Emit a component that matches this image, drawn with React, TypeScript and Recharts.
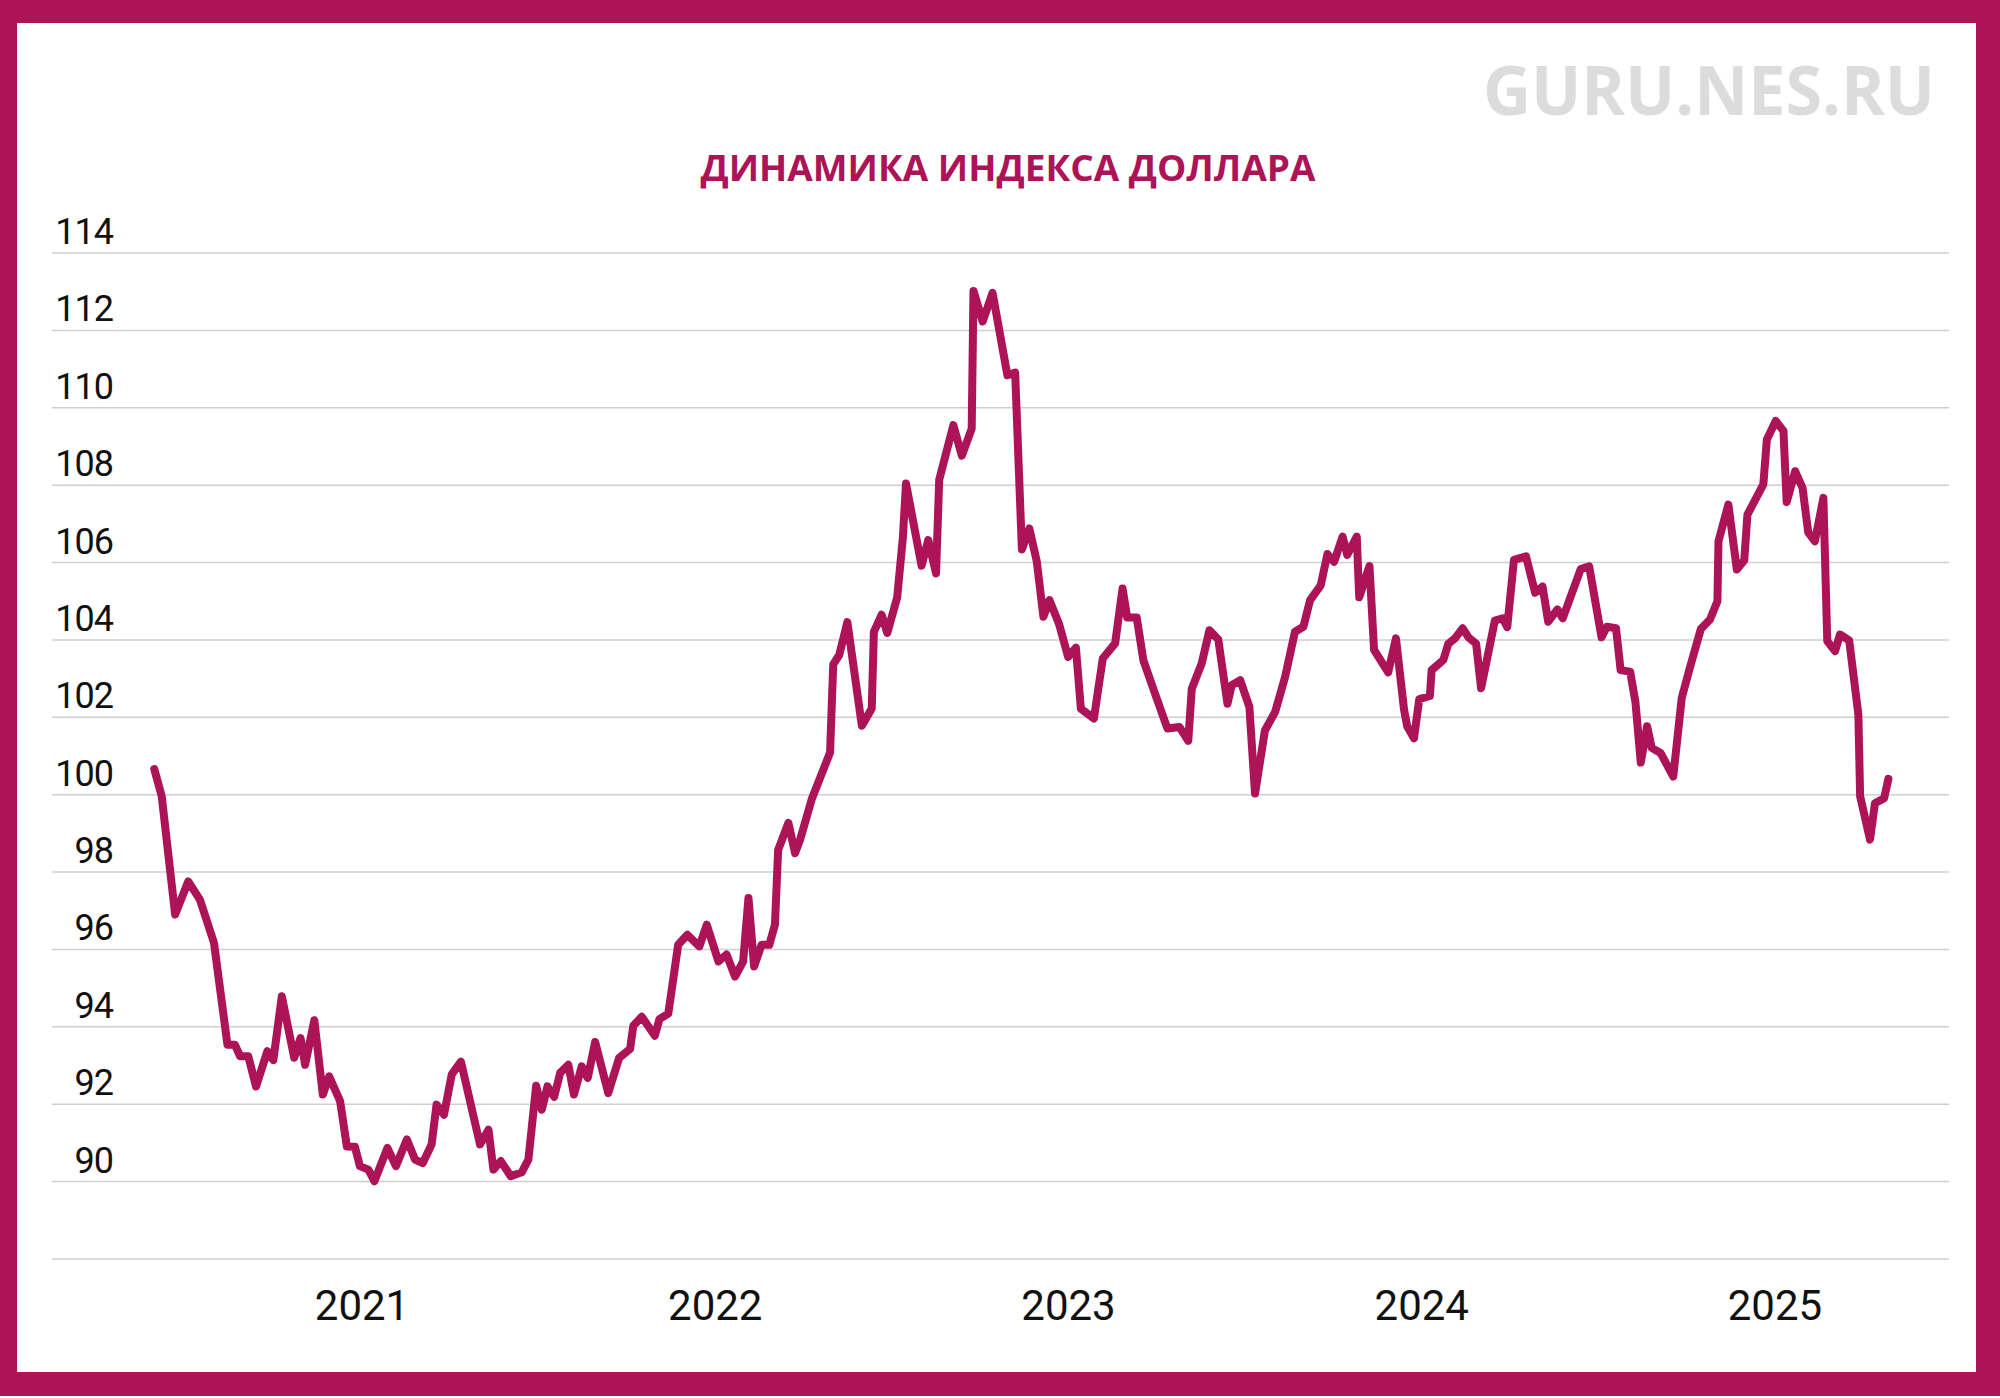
import React from "react";
import { LineChart, Line, XAxis, YAxis, CartesianGrid } from "recharts";

// Time as decimal years (weekly readings of the dollar index)
const times: number[] = [
  2020.412, 2020.433, 2020.471, 2020.508, 2020.541, 2020.581, 2020.619, 2020.640, 2020.655, 2020.678,
  2020.700, 2020.732, 2020.749, 2020.773, 2020.808, 2020.826, 2020.839, 2020.865, 2020.889, 2020.907,
  2020.938, 2020.957, 2020.980, 2020.994, 2021.018, 2021.035, 2021.072, 2021.096, 2021.127, 2021.150,
  2021.172, 2021.197, 2021.211, 2021.232, 2021.254, 2021.280, 2021.334, 2021.358, 2021.372, 2021.393,
  2021.421, 2021.452, 2021.471, 2021.493, 2021.509, 2021.525, 2021.544, 2021.561, 2021.584, 2021.600,
  2021.622, 2021.639, 2021.660, 2021.697, 2021.728, 2021.759, 2021.768, 2021.792, 2021.829, 2021.842,
  2021.867, 2021.895, 2021.921, 2021.955, 2021.976, 2022.009, 2022.032, 2022.056, 2022.079, 2022.094,
  2022.110, 2022.131, 2022.153, 2022.169, 2022.178, 2022.207, 2022.226, 2022.240, 2022.273, 2022.325,
  2022.334, 2022.351, 2022.374, 2022.415, 2022.443, 2022.449, 2022.471, 2022.487, 2022.515, 2022.531,
  2022.540, 2022.584, 2022.603, 2022.625, 2022.634, 2022.674, 2022.698, 2022.726, 2022.731, 2022.757,
  2022.785, 2022.827, 2022.849, 2022.868, 2022.889, 2022.910, 2022.929, 2022.946, 2022.973, 2022.999,
  2023.021, 2023.035, 2023.072, 2023.097, 2023.132, 2023.153, 2023.166, 2023.193, 2023.212, 2023.245,
  2023.280, 2023.314, 2023.339, 2023.349, 2023.377, 2023.399, 2023.424, 2023.450, 2023.462, 2023.486,
  2023.512, 2023.528, 2023.556, 2023.585, 2023.613, 2023.641, 2023.665, 2023.684, 2023.714, 2023.733,
  2023.752, 2023.776, 2023.789, 2023.816, 2023.823, 2023.852, 2023.865, 2023.905, 2023.927, 2023.950,
  2023.959, 2023.978, 2023.993, 2024.023, 2024.028, 2024.061, 2024.075, 2024.094, 2024.116, 2024.132,
  2024.154, 2024.168, 2024.207, 2024.229, 2024.242, 2024.261, 2024.295, 2024.321, 2024.342, 2024.358,
  2024.384, 2024.399, 2024.450, 2024.474, 2024.509, 2024.524, 2024.550, 2024.563, 2024.590, 2024.605,
  2024.620, 2024.638, 2024.651, 2024.676, 2024.712, 2024.736, 2024.759, 2024.790, 2024.816, 2024.837,
  2024.840, 2024.868, 2024.892, 2024.913, 2024.922, 2024.967, 2024.977, 2025.002, 2025.024, 2025.033,
  2025.057, 2025.078, 2025.094, 2025.113, 2025.137, 2025.148, 2025.170, 2025.184, 2025.210, 2025.236,
  2025.241, 2025.269, 2025.283, 2025.309, 2025.321,
];

// Dollar index values
const dxy: number[] = [
  100.66, 99.96, 96.9, 97.76, 97.29, 96.17, 93.54, 93.54, 93.24, 93.24,
  92.46, 93.37, 93.14, 94.79, 93.2, 93.71, 93.02, 94.17, 92.25, 92.72,
  92.08, 90.91, 90.9, 90.4, 90.31, 90.01, 90.87, 90.4, 91.09, 90.57,
  90.48, 90.96, 91.99, 91.73, 92.77, 93.1, 90.96, 91.34, 90.31, 90.53,
  90.14, 90.24, 90.57, 92.48, 91.86, 92.46, 92.19, 92.81, 93.02, 92.25,
  92.98, 92.68, 93.61, 92.29, 93.2, 93.43, 94.03, 94.26, 93.77, 94.2,
  94.34, 96.12, 96.38, 96.08, 96.64, 95.69, 95.87, 95.3, 95.69, 97.33,
  95.56, 96.12, 96.12, 96.64, 98.57, 99.27, 98.49, 98.83, 99.88, 101.09,
  103.37, 103.61, 104.46, 101.78, 102.23, 104.21, 104.65, 104.18, 105.1, 106.63,
  108.04, 105.92, 106.58, 105.72, 108.14, 109.55, 108.76, 109.46, 113.02, 112.23,
  112.97, 110.84, 110.91, 106.34, 106.88, 106.04, 104.6, 105.03, 104.42, 103.56,
  103.8, 102.22, 101.97, 103.52, 103.91, 105.33, 104.58, 104.58, 103.47, 102.61,
  101.71, 101.75, 101.39, 102.74, 103.39, 104.25, 104.01, 102.35, 102.83, 102.96,
  102.27, 100.03, 101.66, 102.14, 103.04, 104.21, 104.34, 105.03, 105.41, 106.22,
  106.02, 106.67, 106.2, 106.67, 105.1, 105.91, 103.74, 103.16, 104.04, 102.19,
  101.76, 101.46, 102.47, 102.55, 103.22, 103.48, 103.9, 104.04, 104.3, 104.07,
  103.9, 102.75, 104.5, 104.56, 104.33, 106.07, 106.16, 105.22, 105.38, 104.47,
  104.79, 104.56, 105.83, 105.9, 104.07, 104.34, 104.3, 103.22, 103.18, 102.39,
  100.83, 101.77, 101.21, 101.08, 100.47, 102.5, 103.28, 104.28, 104.53, 105.0,
  106.55, 107.5, 105.82, 106.06, 107.24, 108.02, 109.18, 109.66, 109.4, 107.56,
  108.36, 107.93, 106.78, 106.55, 107.67, 103.97, 103.71, 104.14, 103.99, 102.07,
  99.96, 98.84, 99.78, 99.91, 100.41,
];

const yTicks: number[] = [88, 90, 92, 94, 96, 98, 100, 102, 104, 106, 108, 110, 112, 114];
const xTicks: number[] = [2021, 2022, 2023, 2024, 2025];
const xDomain: [number, number] = [2020.1224, 2025.4926];

const title = "ДИНАМИКА ИНДЕКСА ДОЛЛАРА";
const watermark = "GURU.NES.RU";

const data = times.map((t, i) => ({ t, v: dxy[i] }));

const MAGENTA = "#AD1457";

const YTick = (props: any) => {
  const { y, payload } = props;
  if (payload.value === 88) return <g />;
  return (
    <text
      x={113}
      y={y - 9}
      textAnchor="end"
      fontSize={36}
      fontFamily="Roboto, 'Open Sans', sans-serif"
      fill="#111"
      letterSpacing={-1}
    >
      {payload.value}
    </text>
  );
};

const XTick = (props: any) => {
  const { x, payload } = props;
  return (
    <text
      x={x}
      y={1320}
      textAnchor="middle"
      fontSize={42}
      fontFamily="Roboto, 'Open Sans', sans-serif"
      fill="#111"
    >
      {payload.value}
    </text>
  );
};

export default function App() {
  return (
    <div style={{ position: "absolute", left: 0, top: 0, width: 2000, height: 1398, background: "#fff" }}>
      <div style={{ position: "absolute", left: 0, top: 0, width: 2000, height: 1396, background: MAGENTA }} />
      <div style={{ position: "absolute", left: 17, top: 23, width: 1959, height: 1349, background: "#fff" }} />
      <div style={{ position: "absolute", left: 0, top: 0 }}>
        <LineChart width={2000} height={1398} data={data} margin={{ top: 253, right: 51, bottom: 0, left: 0 }}>
          <CartesianGrid vertical={false} stroke="#cfcfcf" strokeWidth={1.5} />
          <XAxis
            dataKey="t"
            type="number"
            domain={xDomain}
            ticks={xTicks}
            height={139}
            axisLine={false}
            tickLine={false}
            tick={<XTick />}
            interval={0}
            allowDataOverflow
          />
          <YAxis
            type="number"
            domain={[88, 114]}
            ticks={yTicks}
            width={52}
            axisLine={false}
            tickLine={false}
            tick={<YTick />}
            interval={0}
            allowDataOverflow
          />
          <Line
            type="linear"
            dataKey="v"
            stroke={MAGENTA}
            strokeWidth={8}
            dot={false}
            strokeLinejoin="round"
            strokeLinecap="round"
            isAnimationActive={false}
          />
        </LineChart>
      </div>
      <svg width={2000} height={1398} style={{ position: "absolute", left: 0, top: 0, pointerEvents: "none" }}>
        <text
          x={1935}
          y={115}
          textAnchor="end"
          fontSize={68}
          fontWeight={700}
          fontFamily="'Open Sans', Roboto, sans-serif"
          fill="#dcdcdc"
          textLength={452}
          lengthAdjust="spacingAndGlyphs"
        >
          {watermark}
        </text>
        <text
          x={1008}
          y={181}
          textAnchor="middle"
          fontSize={35}
          fontWeight={700}
          fontFamily="'Open Sans', Roboto, sans-serif"
          fill={MAGENTA}
          textLength={615}
          lengthAdjust="spacingAndGlyphs"
        >
          {title}
        </text>
      </svg>
    </div>
  );
}
